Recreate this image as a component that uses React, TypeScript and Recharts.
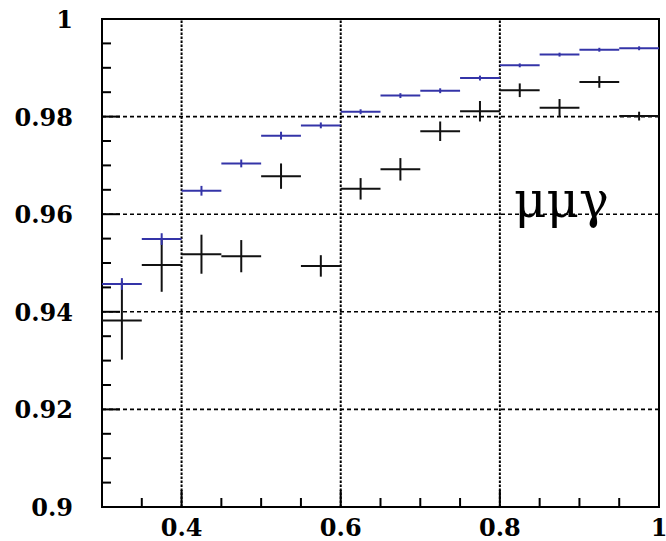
import React from 'react';
import { ScatterChart, Scatter, XAxis, YAxis, ErrorBar, ReferenceLine, ReferenceArea } from 'recharts';

// ---- data ----
const binCenters = [0.325, 0.375, 0.425, 0.475, 0.525, 0.575, 0.625, 0.675, 0.725, 0.775, 0.825, 0.875, 0.925, 0.975];
const binHalfWidths = [0.025, 0.025, 0.025, 0.025, 0.025, 0.025, 0.025, 0.025, 0.025, 0.025, 0.025, 0.025, 0.025, 0.025];

const blueValues = [0.9457, 0.9549, 0.9648, 0.9704, 0.9761, 0.9782, 0.981, 0.9843, 0.9853, 0.9879, 0.9905, 0.9927, 0.9937, 0.994];
const blueErrors = [0.0012, 0.0012, 0.001, 0.0008, 0.0008, 0.0006, 0.0005, 0.0005, 0.0005, 0.0005, 0.0004, 0.0004, 0.0004, 0.0004];

const blackValues = [0.9382, 0.9496, 0.9518, 0.9514, 0.9678, 0.9494, 0.9652, 0.9692, 0.977, 0.9811, 0.9854, 0.9818, 0.9871, 0.9801];
const blackErrors = [0.008, 0.0055, 0.004, 0.0033, 0.0026, 0.0022, 0.0022, 0.0023, 0.002, 0.0021, 0.0014, 0.0018, 0.0012, 0.0009];

const xTicks = [0.3, 0.35, 0.4, 0.45, 0.5, 0.55, 0.6, 0.65, 0.7, 0.75, 0.8, 0.85, 0.9, 0.95, 1.0];
const xMajorTicks = [0.3, 0.4, 0.6, 0.8, 1.0];
const xTickLabels = ['', '0.4', '0.6', '0.8', '1'];

const yTicks = [0.9, 0.905, 0.91, 0.915, 0.92, 0.925, 0.93, 0.935, 0.94, 0.945, 0.95, 0.955, 0.96, 0.965, 0.97, 0.975, 0.98, 0.985, 0.99, 0.995, 1.0];
const yMajorTicks = [0.9, 0.92, 0.94, 0.96, 0.98, 1.0];
const yTickLabels = ['0.9', '0.92', '0.94', '0.96', '0.98', '1'];

const xGrid = [0.4, 0.6, 0.8];
const yGrid = [0.92, 0.94, 0.96, 0.98];

const annotation = 'μμγ';

// ---- build rows ----
const blueRows = binCenters.map((x, i) => ({ x, y: blueValues[i], ex: binHalfWidths[i], ey: blueErrors[i] }));
const blackRows = binCenters.map((x, i) => ({ x, y: blackValues[i], ex: binHalfWidths[i], ey: blackErrors[i] }));

const BLUE = '#3434a8';
const SERIF = 'DejaVu Serif';

const findMajor = (list: number[], v: number) => list.findIndex((m) => Math.abs(m - v) < 1e-6);

const XTick = (props: any) => {
  const { x, y, payload } = props;
  const idx = findMajor(xMajorTicks, payload.value);
  const len = idx >= 0 ? 17 : 9;
  const label = idx >= 0 ? xTickLabels[idx] : '';
  return (
    <g>
      <line x1={x} x2={x} y1={y} y2={y - len} stroke="#000" strokeWidth={2} />
      {label ? (
        <text
          x={x}
          y={y + 29}
          textAnchor="middle"
          fontFamily={SERIF}
          fontWeight="bold"
          fontSize={24}
          fill="#000"
        >
          {label}
        </text>
      ) : null}
    </g>
  );
};

const YTick = (props: any) => {
  const { x, y, payload } = props;
  const idx = findMajor(yMajorTicks, payload.value);
  const len = idx >= 0 ? 18 : 9;
  const label = idx >= 0 ? yTickLabels[idx] : '';
  return (
    <g>
      <line x1={x} x2={x + len} y1={y} y2={y} stroke="#000" strokeWidth={2} />
      {label ? (
        <text
          x={x - 29}
          y={y + 9}
          textAnchor="end"
          fontFamily={SERIF}
          fontWeight="bold"
          fontSize={24}
          fill="#000"
        >
          {label}
        </text>
      ) : null}
    </g>
  );
};

const NoShape = () => <g />;

export default function App() {
  return (
    <div style={{ position: 'absolute', left: 0, top: 0, width: 666, height: 541, background: '#fff' }}>
      <ScatterChart width={666} height={541} margin={{ top: 19, right: 7, bottom: 0, left: 0 }}>
        <XAxis
          dataKey="x"
          type="number"
          domain={[0.3, 1.0]}
          ticks={xTicks}
          interval={0}
          allowDataOverflow
          height={34}
          tickSize={0}
          tickMargin={0}
          tickLine={false}
          axisLine={false}
          tick={XTick}
        />
        <YAxis
          dataKey="y"
          type="number"
          domain={[0.9, 1.0]}
          ticks={yTicks}
          interval={0}
          allowDataOverflow
          width={102}
          tickSize={0}
          tickMargin={0}
          tickLine={false}
          axisLine={false}
          tick={YTick}
        />
        {yGrid.map((v) => (
          <ReferenceLine key={'h' + v} y={v} stroke="#000" strokeWidth={1.6} strokeDasharray="4 3" />
        ))}
        {xGrid.map((v) => (
          <ReferenceLine key={'v' + v} x={v} stroke="#000" strokeWidth={2} strokeDasharray="2.5 1.5" />
        ))}
        <Scatter data={blackRows} shape={NoShape} isAnimationActive={false}>
          <ErrorBar dataKey="ex" direction="x" width={0} stroke="#111" strokeWidth={2} isAnimationActive={false} />
          <ErrorBar dataKey="ey" direction="y" width={0} stroke="#111" strokeWidth={2} isAnimationActive={false} />
        </Scatter>
        <Scatter data={blueRows} shape={NoShape} isAnimationActive={false}>
          <ErrorBar dataKey="ex" direction="x" width={0} stroke={BLUE} strokeWidth={2} isAnimationActive={false} />
          <ErrorBar dataKey="ey" direction="y" width={0} stroke={BLUE} strokeWidth={2} isAnimationActive={false} />
        </Scatter>
        <ReferenceArea x1={0.3} x2={1.0} y1={0.9} y2={1.0} fill="none" stroke="#000" strokeWidth={2} />
        <text x={514} y={217} fontFamily={SERIF} fontSize={50} fill="#000">
          {annotation}
        </text>
      </ScatterChart>
    </div>
  );
}
